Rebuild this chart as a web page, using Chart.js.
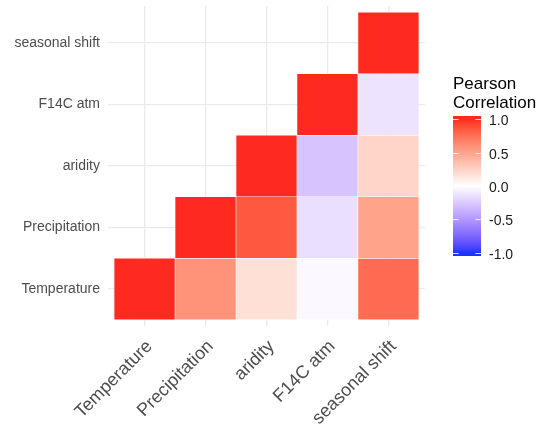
<!DOCTYPE html>
<html>
<head>
<meta charset="utf-8">
<script src="https://cdn.jsdelivr.net/npm/chart.js@4.4.0/dist/chart.umd.min.js"></script>
<style>
  html, body { margin: 0; padding: 0; background: #fff; }
  #wrap { width: 537px; height: 425px; }
</style>
</head>
<body>
<div id="wrap"><canvas id="corrChart"></canvas></div>
<script>
const variables = ['Temperature', 'Precipitation', 'aridity', 'F14C atm', 'seasonal shift'];
// lower triangle: column (x), row (y), pearson r
const cellX = [1, 2, 2, 3, 3, 3, 4, 4, 4, 4, 5, 5, 5, 5, 5];
const cellY = [1, 1, 2, 1, 2, 3, 1, 2, 3, 4, 1, 2, 3, 4, 5];
const corr  = [1, 0.58, 1, 0.17, 0.85, 1, -0.03, -0.15, -0.28, 1, 0.77, 0.5, 0.23, -0.13, 1];
const legendBreaks = [1.0, 0.5, 0.0, -0.5, -1.0];

// --- colour helpers (white -> red / white -> blue, interpolated in Lab)
function toLin(c) { c /= 255; return c <= 0.04045 ? c / 12.92 : Math.pow((c + 0.055) / 1.055, 2.4); }
function fromLin(c) {
    c = c <= 0.0031308 ? 12.92 * c : 1.055 * Math.pow(c, 1 / 2.4) - 0.055;
    return Math.round(Math.max(0, Math.min(1, c)) * 255);
}
function rgb2lab(r, g, b) {
    r = toLin(r); g = toLin(g); b = toLin(b);
    let x = (0.4124 * r + 0.3576 * g + 0.1805 * b) / 0.95047;
    let y = (0.2126 * r + 0.7152 * g + 0.0722 * b);
    let z = (0.0193 * r + 0.1192 * g + 0.9505 * b) / 1.08883;
    const f = t => t > 0.008856 ? Math.cbrt(t) : 7.787 * t + 16 / 116;
    x = f(x); y = f(y); z = f(z);
    return [116 * y - 16, 500 * (x - y), 200 * (y - z)];
}
function lab2rgb(L, a, b) {
    let fy = (L + 16) / 116, fx = fy + a / 500, fz = fy - b / 200;
    const fi = t => t > 0.206893 ? t * t * t : (t - 16 / 116) / 7.787;
    const x = fi(fx) * 0.95047, y = fi(fy), z = fi(fz) * 1.08883;
    const r = 3.2406 * x - 1.5372 * y - 0.4986 * z;
    const g = -0.9689 * x + 1.8758 * y + 0.0415 * z;
    const bl = 0.0557 * x - 0.2040 * y + 1.0570 * z;
    return 'rgb(' + fromLin(r) + ',' + fromLin(g) + ',' + fromLin(bl) + ')';
}
const labHigh = rgb2lab(255, 42, 31);
const labMid = rgb2lab(255, 255, 255);
const labLow = rgb2lab(22, 52, 255);
function fillColor(v) {
    v = Math.max(-1, Math.min(1, v));
    const end = v >= 0 ? labHigh : labLow;
    const t = Math.abs(v);
    return lab2rgb(labMid[0] + (end[0] - labMid[0]) * t,
                   labMid[1] + (end[1] - labMid[1]) * t,
                   labMid[2] + (end[2] - labMid[2]) * t);
}

// colour bar legend, drawn by hand
const colourBar = {
    id: 'colourBar',
    afterDraw(chart) {
        const ctx = chart.ctx;
        const x0 = 453, w = 28, top = 116, bottom = 256;
        const mid = 186, unit = 66.8; // pixel per 1.0
        ctx.save();
        ctx.fillStyle = '#000';
        ctx.font = '17px "Liberation Sans", Arial, sans-serif';
        ctx.textBaseline = 'middle';
        ctx.textAlign = 'left';
        ctx.fillText('Pearson', x0, 84);
        ctx.fillText('Correlation', x0, 103);

        const grad = ctx.createLinearGradient(0, top, 0, bottom);
        for (let i = 0; i <= 40; i++) {
            const yy = top + (bottom - top) * i / 40;
            grad.addColorStop(i / 40, fillColor((mid - yy) / unit));
        }
        ctx.fillStyle = grad;
        ctx.fillRect(x0, top, w, bottom - top);

        ctx.strokeStyle = 'rgba(255,255,255,0.8)';
        ctx.lineWidth = 1;
        ctx.fillStyle = '#1a1a1a';
        ctx.font = '14px "Liberation Sans", Arial, sans-serif';
        legendBreaks.forEach(b => {
            const yy = Math.round(mid - b * unit) + 0.5;
            ctx.beginPath();
            ctx.moveTo(x0, yy); ctx.lineTo(x0 + 5.6, yy);
            ctx.moveTo(x0 + w - 5.6, yy); ctx.lineTo(x0 + w, yy);
            ctx.stroke();
            ctx.fillText(b.toFixed(1), x0 + w + 8, yy + 1.5);
        });
        ctx.restore();
    }
};

const tickValues = variables.map((_, i) => ({ value: i + 1 }));

new Chart(document.getElementById('corrChart'), {
    type: 'bar',
    data: {
        datasets: [{
            data: cellX.map((x, i) => ({ x: x, y: [cellY[i] - 0.5, cellY[i] + 0.5] })),
            backgroundColor: corr.map(fillColor),
            borderColor: 'rgba(255,255,255,0.7)',
            borderWidth: 0.6,
            borderSkipped: false,
            categoryPercentage: 1.0,
            barPercentage: 1.0
        }]
    },
    options: {
        responsive: true,
        maintainAspectRatio: false,
        animation: false,
        layout: { padding: { top: 6, right: 112, left: 0, bottom: 0 } },
        scales: {
            x: {
                type: 'linear',
                offset: false,
                min: 0.4,
                max: 5.6,
                afterBuildTicks: scale => { scale.ticks = tickValues.map(t => ({ ...t })); },
                afterFit: scale => { scale.height = 99; },
                grid: { color: '#EBEBEB', lineWidth: 1.3, drawTicks: false, offset: false },
                border: { display: false },
                ticks: {
                    autoSkip: false,
                    minRotation: 45,
                    maxRotation: 45,
                    padding: 10,
                    labelOffset: 5,
                    color: '#4D4D4D',
                    font: { family: '"Liberation Sans", Arial, sans-serif', size: 18 },
                    callback: v => variables[v - 1]
                }
            },
            y: {
                type: 'linear',
                min: 0.4,
                max: 5.6,
                afterBuildTicks: scale => { scale.ticks = tickValues.map(t => ({ ...t })); },
                afterFit: scale => { scale.width = 108; scale.paddingTop = 0; scale.paddingBottom = 0; },
                grid: { color: '#EBEBEB', lineWidth: 1.3, drawTicks: false },
                border: { display: false },
                ticks: {
                    padding: 8,
                    color: '#4D4D4D',
                    font: { family: '"Liberation Sans", Arial, sans-serif', size: 14 },
                    callback: v => variables[v - 1]
                }
            }
        },
        plugins: {
            legend: { display: false },
            tooltip: { enabled: false }
        }
    },
    plugins: [colourBar]
});
</script>
</body>
</html>
